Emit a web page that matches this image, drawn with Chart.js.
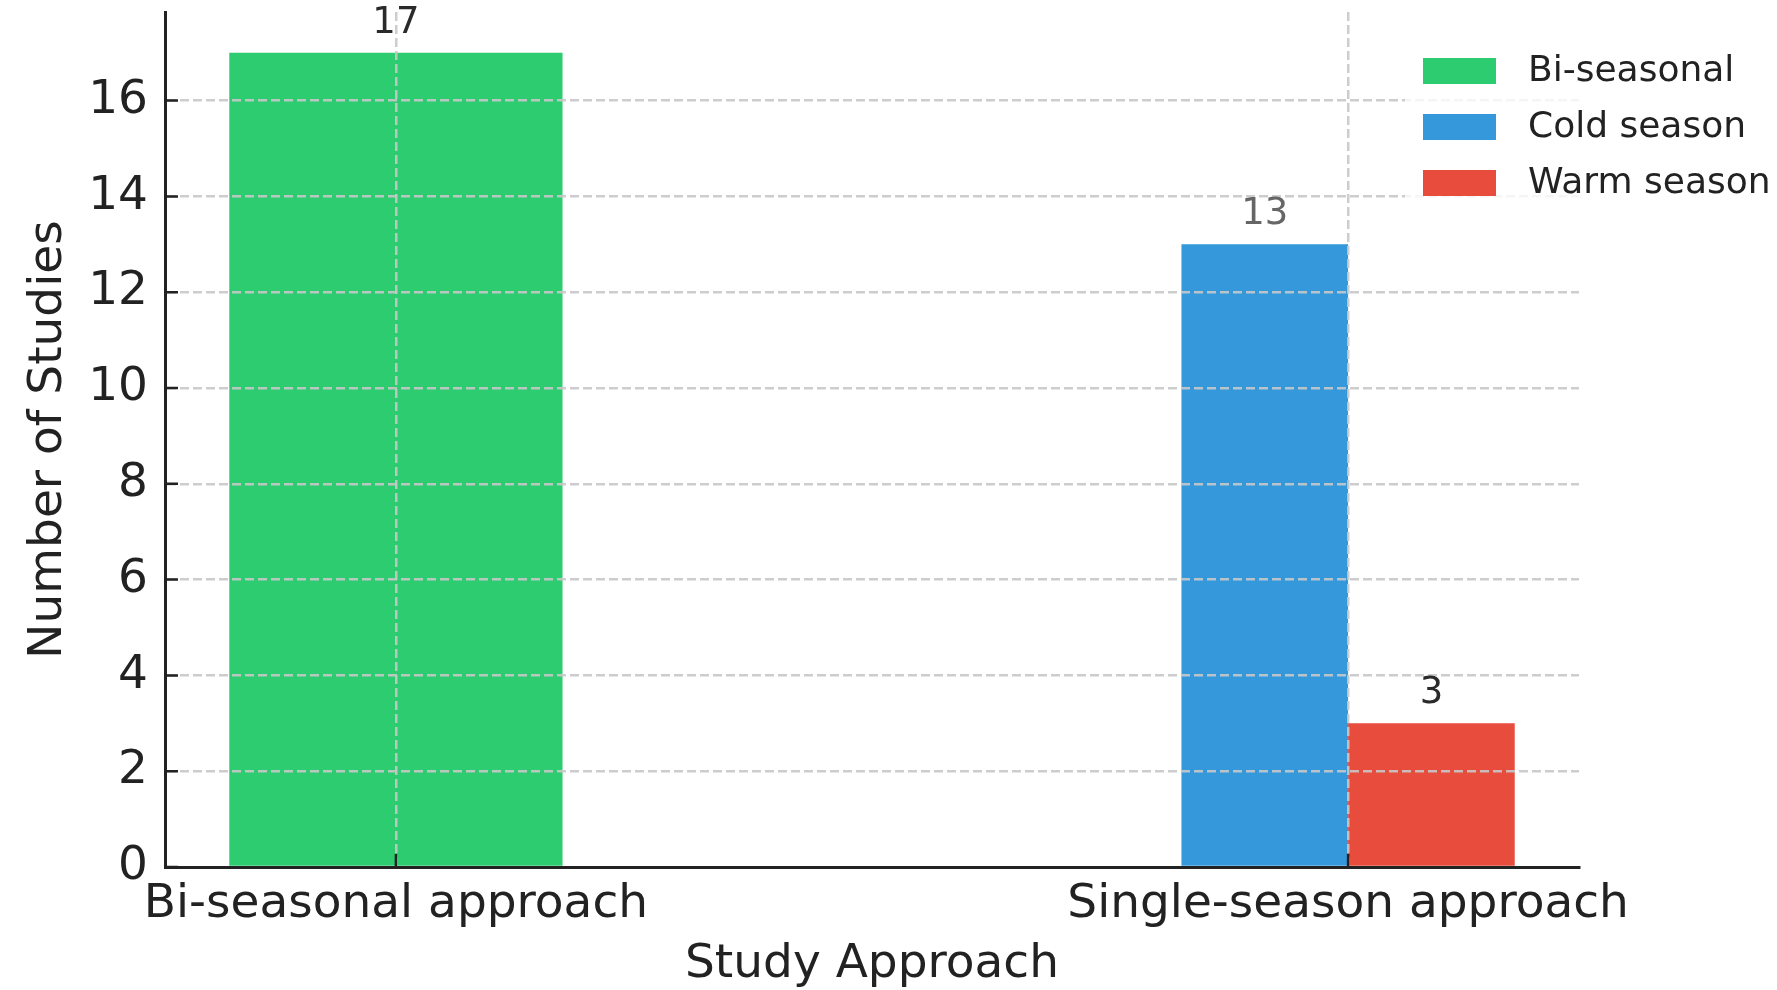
<!DOCTYPE html>
<html>
<head>
<meta charset="utf-8">
<title>Number of Studies by Study Approach</title>
<script src="https://cdn.jsdelivr.net/npm/chart.js@4.4.1/dist/chart.umd.min.js"></script>
<style>
  html, body { margin: 0; padding: 0; background: #ffffff; }
  #wrap { width: 1777px; height: 990px; position: relative; }
</style>
</head>
<body>
<div id="wrap"><canvas id="chart" width="1777" height="990"></canvas></div>
<script>
// Categories on the x axis
const categories = ['Bi-seasonal approach', 'Single-season approach'];

// Series names and counts per category (null = not part of that category)
const seriesNames = ['Bi-seasonal', 'Cold season', 'Warm season'];
const biSeasonal = [17, null];
const coldSeason = [null, 13];
const warmSeason = [null, 3];

// Tick values of the count axis
const yTicks = [0, 2, 4, 6, 8, 10, 12, 14, 16];

const seriesColors = ['#2ecc71', '#3498db', '#e74c3c'];
const labelColors = ['#2a2a2a', '#666666', '#2a2a2a'];

const FONT = "'DejaVu Sans', 'Liberation Sans', sans-serif";
const INK = '#222222';
const GRID = 'rgba(200,200,200,0.9)';

const toPoints = values => values.map((v, i) => ({ x: i, y: v }));

// Value printed above each bar
const valueLabels = {
  id: 'valueLabels',
  afterDraw(chart) {
    const ctx = chart.ctx;
    ctx.save();
    ctx.font = `37px ${FONT}`;
    ctx.textAlign = 'center';
    ctx.textBaseline = 'alphabetic';
    chart.data.datasets.forEach((ds, di) => {
      const meta = chart.getDatasetMeta(di);
      meta.data.forEach((bar, i) => {
        const v = ds.data[i].y;
        if (v === null || v === undefined) return;
        ctx.fillStyle = labelColors[di];
        ctx.fillText(String(v), bar.x, bar.y - 20);
      });
    });
    ctx.restore();
  }
};

// Tick marks pointing into the plot area
const innerTicks = {
  id: 'innerTicks',
  afterDraw(chart) {
    const { ctx, chartArea, scales } = chart;
    const len = 13;
    ctx.save();
    ctx.strokeStyle = INK;
    ctx.lineWidth = 2.5;
    ctx.beginPath();
    scales.x.ticks.forEach((t, i) => {
      const px = scales.x.getPixelForTick(i);
      ctx.moveTo(px, chartArea.bottom);
      ctx.lineTo(px, chartArea.bottom - len);
    });
    scales.y.ticks.forEach((t, i) => {
      const py = scales.y.getPixelForTick(i);
      ctx.moveTo(chartArea.left, py);
      ctx.lineTo(chartArea.left + len, py);
    });
    ctx.stroke();
    ctx.restore();
  }
};

// Legend in the upper right corner, overlapping the plot
const cornerLegend = {
  id: 'cornerLegend',
  afterDraw(chart) {
    const { ctx, chartArea } = chart;
    const boxX = chartArea.right - 156;
    const firstRow = chartArea.top + 59;
    const rowGap = 56;
    ctx.save();
    ctx.fillStyle = 'rgba(255,255,255,0.8)';
    ctx.fillRect(boxX - 18, chartArea.top + 10, chart.width - (boxX - 18), 185);
    ctx.font = `36px ${FONT}`;
    ctx.textBaseline = 'middle';
    ctx.textAlign = 'left';
    chart.data.datasets.forEach((ds, i) => {
      const cy = firstRow + i * rowGap;
      ctx.fillStyle = ds.backgroundColor;
      ctx.fillRect(boxX, cy - 13, 73, 26);
      ctx.fillStyle = INK;
      ctx.fillText(ds.label, boxX + 105, cy + 1);
    });
    ctx.restore();
  }
};

const seriesData = [biSeasonal, coldSeason, warmSeason];

new Chart(document.getElementById('chart'), {
  type: 'bar',
  data: {
    datasets: seriesData.map((vals, i) => ({
      label: seriesNames[i],
      data: toPoints(vals),
      backgroundColor: seriesColors[i],
      borderWidth: 0
    }))
  },
  options: {
    responsive: false,
    animation: false,
    devicePixelRatio: 1,
    skipNull: true,
    categoryPercentage: 0.35,
    barPercentage: 1.0,
    layout: { padding: { top: 12, right: 198, left: 0, bottom: 0 } },
    plugins: {
      legend: { display: false },
      tooltip: { enabled: false }
    },
    scales: {
      x: {
        type: 'linear',
        min: -0.2425,
        max: 1.2425,
        offset: false,
        afterBuildTicks: s => { s.ticks = categories.map((_, i) => ({ value: i })); },
        afterFit: s => { s.height = 123; },
        ticks: {
          callback: v => categories[v] ?? '',
          font: { family: FONT, size: 47 },
          color: INK,
          padding: 10,
          maxRotation: 0,
          autoSkip: false,
          z: 2
        },
        grid: { color: GRID, lineWidth: 2.5, drawTicks: false, offset: false, z: 1 },
        border: { display: true, color: INK, width: 3, dash: [9, 4], z: 2 },
        title: {
          display: true,
          text: 'Study Approach',
          font: { family: FONT, size: 47 },
          color: INK,
          padding: { top: 0, bottom: -3 }
        }
      },
      y: {
        type: 'linear',
        min: 0,
        max: 17.85,
        afterBuildTicks: s => { s.ticks = yTicks.map(v => ({ value: v })); },
        afterFit: s => { s.width = 165; s.paddingTop = 0; s.paddingBottom = 0; },
        ticks: {
          font: { family: FONT, size: 47 },
          color: INK,
          padding: 17,
          z: 2
        },
        grid: { color: GRID, lineWidth: 2.5, drawTicks: false, z: 1 },
        border: { display: true, color: INK, width: 3, dash: [9, 4], z: 2 },
        title: {
          display: true,
          text: 'Number of Studies',
          font: { family: FONT, size: 47 },
          color: INK,
          padding: { top: 21, bottom: 0 }
        }
      }
    }
  },
  plugins: [valueLabels, innerTicks, cornerLegend]
});
</script>
</body>
</html>
